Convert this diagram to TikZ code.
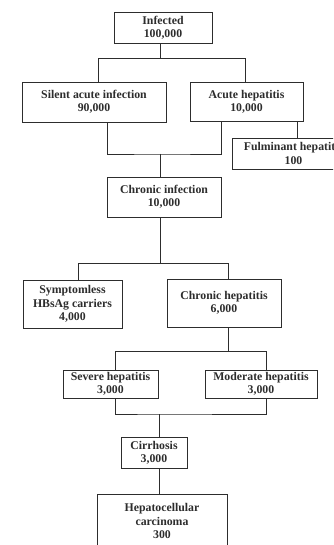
\documentclass[tikz,border=0pt]{standalone}
\usepackage{fontspec}
\setmainfont{Liberation Serif}
\usetikzlibrary{positioning}
\definecolor{ink}{RGB}{45,45,45}
\tikzset{
  stage/.style={draw=ink,line width=0.9pt,fill=white,align=center,inner sep=0pt,
    font=\fontsize{11.8}{13.3}\selectfont\bfseries,text=ink,
    minimum width=#1},
  stage/.default=100pt,
  link/.style={draw=ink,line width=0.9pt},
}
\begin{document}
\begin{tikzpicture}[x=1pt,y=-1pt]
  \useasboundingbox (0,0) rectangle (333,545);
  \clip (0,0) rectangle (333,545);
  \fill[white] (0,0) rectangle (333,545);
  % boxes
  \node[stage=98pt,minimum height=31pt] (inf) at (163,27.5) {Infected\\100,000};
  \node[stage=144pt,minimum height=40pt] (silent) at (94,102) {Silent acute infection\\90,000};
  \node[stage=113pt,minimum height=39pt] (acute) at (246.5,101.5) {Acute hepatitis\\10,000};
  \node[stage=123pt,minimum height=31pt] (fulm) at (293.5,153.5) {Fulminant hepatitis\\100};
  \node[stage=114pt,minimum height=40pt] (chinf) at (164,197) {Chronic infection\\10,000};
  \node[stage=99pt,minimum height=48pt] (symp) at (72.5,304) {Symptomless\\HBsAg carriers\\4,000};
  \node[stage=114pt,minimum height=48pt] (chhep) at (224,303) {Chronic hepatitis\\6,000};
  \node[stage=95pt,minimum height=28pt] (severe) at (110.5,384) {Severe hepatitis\\3,000};
  \node[stage=112pt,minimum height=28pt] (moderate) at (261,384) {Moderate hepatitis\\3,000};
  \node[stage=66pt,minimum height=31pt] (cirr) at (154,452.5) {Cirrhosis\\3,000};
  \node[stage=130pt,minimum height=54pt] (hcc) at (162,521) {Hepatocellular\\carcinoma\\300};
  % junctions
  \coordinate (j1) at (160,58);
  \coordinate (j2) at (160,154);
  \coordinate (j3) at (160,263);
  \coordinate (j4) at (228,351);
  \coordinate (j5) at (159,414);
  % connectors
  \draw[link] ([xshift=-3pt]inf.south) -- (j1);
  \draw[link] (j1) -| ([xshift=4pt]silent.north);
  \draw[link] (j1) -| ([xshift=-1.5pt]acute.north);
  \draw[link] ([xshift=13pt]silent.south) |- (j2) -| ([xshift=-25.5pt]acute.south);
  \draw[link] ([xshift=50.5pt]acute.south) -- ([xshift=50.5pt]acute.south |- fulm.north);
  \draw[link] (j2) -- (j2 |- chinf.north);
  \draw[link] (j2 |- chinf.south) -- (j3);
  \draw[link] (j3) -| ([xshift=5.5pt]symp.north);
  \draw[link] (j3) -| ([xshift=4pt]chhep.north);
  \draw[link] ([xshift=4pt]chhep.south) -- (j4);
  \draw[link] (j4) -| ([xshift=4.5pt]severe.north);
  \draw[link] (j4) -| ([xshift=5pt]moderate.north);
  \draw[link] ([xshift=4.5pt]severe.south) |- (j5) -| ([xshift=5pt]moderate.south);
  \draw[link] (j5) -- (j5 |- cirr.north);
  \draw[link] (j5 |- cirr.south) -- (j5 |- hcc.north);
\end{tikzpicture}
\end{document}
